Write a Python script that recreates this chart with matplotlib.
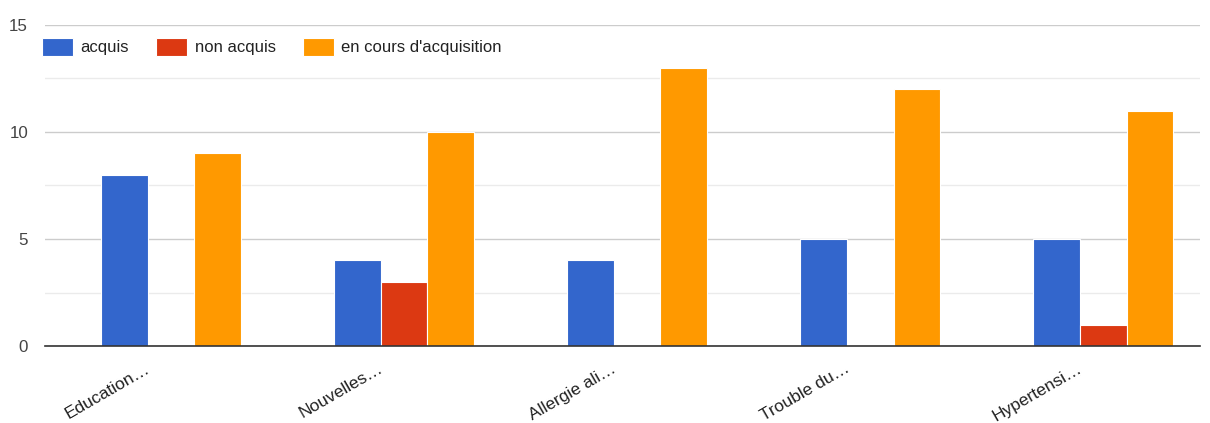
import numpy as np
import matplotlib.pyplot as plt
from matplotlib.transforms import ScaledTranslation

categories = ["Education…", "Nouvelles…", "Allergie ali…", "Trouble du…", "Hypertensi…"]
series_names = ["acquis", "non acquis", "en cours d'acquisition"]
acquis = [8, 4, 4, 5, 5]
non_acquis = [0, 3, 0, 0, 1]
en_cours = [9, 10, 13, 12, 11]
colors = ["#3366CC", "#DC3912", "#FF9900"]

plt.rcParams['font.family'] = ['Liberation Sans', 'DejaVu Sans']

fig = plt.figure(figsize=(12.1, 4.23), dpi=100)
ax = fig.add_axes([0.037, 0.182, 0.955, 0.759])

x = np.arange(len(categories))
w = 0.2
for i, (vals, name, col) in enumerate(zip([acquis, non_acquis, en_cours], series_names, colors)):
    ax.bar(x + (i - 1) * w, vals, w, color=col, label=name,
           edgecolor='white', linewidth=0.8, zorder=3)

ax.set_xlim(-0.541, 4.416)
ax.set_ylim(0, 15)
ax.set_yticks([0, 5, 10, 15])
ax.set_yticks([2.5, 7.5, 12.5], minor=True)
ax.grid(axis='y', which='major', color='#cccccc', linewidth=1, zorder=0)
ax.grid(axis='y', which='minor', color='#ebebeb', linewidth=1, zorder=0)
ax.tick_params(axis='y', which='both', length=0, labelsize=12.2, labelcolor='#444444', pad=12)
ax.tick_params(axis='x', length=0, labelsize=12.5, labelcolor='#222222', pad=10)

ax.set_xticks(x)
ax.set_xticklabels(categories, rotation=30, ha='right', rotation_mode='anchor')
# shift category labels left like the original
offset = ScaledTranslation(-26 / 100, -1 / 100, fig.dpi_scale_trans)
for lbl in ax.get_xticklabels():
    lbl.set_transform(lbl.get_transform() + offset)

for s in ['top', 'right', 'left']:
    ax.spines[s].set_visible(False)
ax.spines['bottom'].set_color('#333333')
ax.spines['bottom'].set_linewidth(1.2)
ax.spines['bottom'].set_zorder(4)

ax.legend(loc='upper left', bbox_to_anchor=(-0.0125, 0.996), ncol=3, frameon=False,
          fontsize=12, handlelength=1.85, handleheight=1.25, handletextpad=0.45,
          columnspacing=1.65, borderaxespad=0.3, labelcolor='#222222')

fig.savefig("out.png", dpi=100)
